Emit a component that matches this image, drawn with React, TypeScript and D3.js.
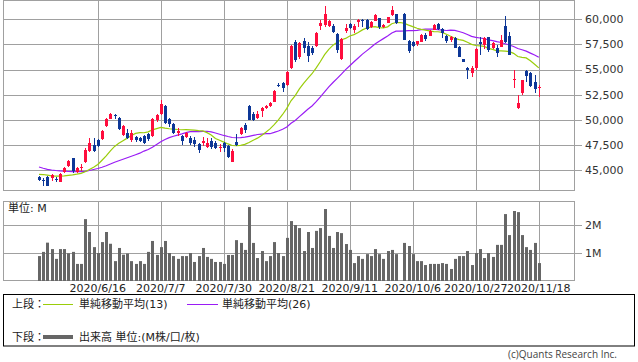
import React from 'react';
import * as d3 from 'd3';

// trading days shown on the chart (10/1 had no trading: TSE outage)
const dates = [
  '2020/5/27', '2020/5/28', '2020/5/29',
  '2020/6/1', '2020/6/2', '2020/6/3', '2020/6/4', '2020/6/5', '2020/6/8', '2020/6/9', '2020/6/10', '2020/6/11', '2020/6/12',
  '2020/6/15', '2020/6/16', '2020/6/17', '2020/6/18', '2020/6/19', '2020/6/22', '2020/6/23', '2020/6/24', '2020/6/25', '2020/6/26',
  '2020/6/29', '2020/6/30',
  '2020/7/1', '2020/7/2', '2020/7/3', '2020/7/6', '2020/7/7', '2020/7/8', '2020/7/9', '2020/7/10', '2020/7/13', '2020/7/14',
  '2020/7/15', '2020/7/16', '2020/7/17', '2020/7/20', '2020/7/21', '2020/7/22', '2020/7/27', '2020/7/28', '2020/7/29', '2020/7/30',
  '2020/7/31',
  '2020/8/3', '2020/8/4', '2020/8/5', '2020/8/6', '2020/8/7', '2020/8/11', '2020/8/12', '2020/8/13', '2020/8/14', '2020/8/17',
  '2020/8/18', '2020/8/19', '2020/8/20', '2020/8/21', '2020/8/24', '2020/8/25', '2020/8/26', '2020/8/27', '2020/8/28', '2020/8/31',
  '2020/9/1', '2020/9/2', '2020/9/3', '2020/9/4', '2020/9/7', '2020/9/8', '2020/9/9', '2020/9/10', '2020/9/11', '2020/9/14',
  '2020/9/15', '2020/9/16', '2020/9/17', '2020/9/18', '2020/9/23', '2020/9/24', '2020/9/25', '2020/9/28', '2020/9/29', '2020/9/30',
  '2020/10/1', '2020/10/2', '2020/10/5', '2020/10/6', '2020/10/7', '2020/10/8', '2020/10/9', '2020/10/12', '2020/10/13', '2020/10/14',
  '2020/10/15', '2020/10/16', '2020/10/19', '2020/10/20', '2020/10/21', '2020/10/22', '2020/10/23', '2020/10/26', '2020/10/27',
  '2020/10/28', '2020/10/29', '2020/10/30',
  '2020/11/2', '2020/11/4', '2020/11/5', '2020/11/6', '2020/11/9', '2020/11/10', '2020/11/11', '2020/11/12', '2020/11/13',
  '2020/11/16', '2020/11/17', '2020/11/18',
];

const opens = [
  44350, 44040, 44350, 44200, 44100, 43870, 44850, 45430, 46220, 44850,
  45230, 45800, 46930, 47515, 48040, 48130, 49380, 50130, 50450, 50230,
  48550, 48740, 48010, 48300, 48250, 48408, 48600, 48400, 49950, 50600,
  51390, 50063, 49600, 48700, 48370, 48340, 48180, 48050, 47600, 47750,
  47350, 47900, 47730, 47250, 47680, 47415, 45858, 47840, 48650, 49500,
  51420, 50580, 50200, 50850, 51150, 51400, 51800, 53500, 53640, 53450,
  55200, 57780, 56220, 57878, 57348, 57182, 57348, 59334, 59434, 59334,
  59334, 58507, 56024, 58871, 59533, 58937, 59700, 59930, 59930, 59268,
  59864, 60096, 59250, 59665, 60427, 60526, null, 60526, 57878, 57778,
  57547, 57778, 58440, 58374, 58937, 59533, 59003, 58341, 57944, 58109,
  57282, 56057, 55130, 54699, 55130, 57778, 57447, 58208, 57183, 57116,
  57282, 59334, 58341, 54000, 51156, 52646, 54897, 54699, 53805, 53200,
];
const highs = [
  44470, 44210, 44450, 44650, 44370, 44750, 45300, 46050, 46250, 45330,
  45630, 47200, 48200, 48180, 48150, 49000, 50150, 50650, 50593, 50300,
  49500, 49100, 49000, 48400, 48350, 48500, 48700, 50150, 50600, 51990,
  51450, 50163, 49730, 49170, 48550, 48800, 48400, 48280, 47750, 48340,
  48180, 48200, 47950, 47600, 47810, 47514, 47083, 48600, 49330, 49650,
  51500, 50800, 50850, 51300, 51500, 51750, 52950, 53700, 53750, 54850,
  57450, 57944, 57700, 58109, 57778, 57300, 58772, 59930, 61354, 59900,
  59500, 58606, 58110, 59533, 59600, 59533, 60000, 60030, 60000, 59800,
  60500, 60100, 59530, 60250, 61354, 60560, null, 60600, 57944, 57850,
  57878, 58500, 58600, 58900, 59500, 59600, 59100, 58440, 58300, 58200,
  57300, 56100, 55295, 55361, 57100, 58275, 58208, 58275, 57780, 57447,
  58440, 60327, 58772, 54964, 52481, 53970, 54964, 54800, 54467, 53473,
];
const lows = [
  43940, 43470, 43440, 43980, 43870, 43860, 44700, 45300, 44700, 44700,
  44960, 45700, 46850, 46820, 47350, 48050, 49300, 50050, 50066, 49050,
  48400, 48100, 47780, 47850, 47800, 47600, 47900, 48300, 49800, 50500,
  49600, 49335, 48600, 48400, 47550, 48200, 47500, 47350, 46750, 47450,
  47200, 47150, 47150, 46850, 46850, 46190, 45793, 47450, 48550, 48700,
  49950, 49850, 50050, 50300, 51050, 51300, 51750, 53250, 52820, 53400,
  55100, 55792, 56100, 56620, 55792, 56450, 57280, 58937, 59268, 59250,
  58600, 56620, 55960, 58606, 59000, 58606, 59200, 59200, 58900, 59100,
  59800, 59000, 59100, 59600, 60330, 59550, null, 57900, 56620, 57250,
  57300, 57700, 57800, 58300, 58900, 58950, 58109, 57612, 57780, 57116,
  56222, 55792, 54070, 54301, 55000, 56454, 57017, 56785, 57017, 56222,
  57282, 57679, 56454, 53143, 51057, 52481, 53805, 53242, 52712, 52315,
];
const closes = [
  44060, 43990, 43460, 44530, 44060, 44650, 45210, 45950, 44900, 45250,
  45330, 47020, 47745, 46950, 47460, 48950, 50100, 50593, 50380, 49150,
  49430, 48200, 48675, 48010, 47930, 47680, 48100, 50080, 50500, 51620,
  49650, 49600, 48670, 48950, 47880, 48740, 47720, 47620, 47020, 47880,
  47760, 47350, 47250, 47350, 47180, 46355, 46951, 47520, 49170, 49040,
  50030, 50000, 50580, 51190, 51420, 51650, 52910, 53420, 53200, 54800,
  57360, 55960, 57610, 57182, 56388, 56620, 58672, 59665, 60526, 59864,
  58772, 56951, 58010, 59102, 59102, 59334, 59930, 59800, 59000, 59765,
  60427, 59202, 59450, 60195, 60924, 59599, null, 57944, 56885, 57348,
  57878, 58440, 58010, 58837, 59434, 59003, 58606, 57845, 58200, 57116,
  56222, 55792, 54980, 55130, 57017, 57514, 58109, 56951, 57679, 56620,
  57944, 57778, 56454, 54100, 51653, 53970, 54368, 53374, 53043, 53300,
];
// volume, millions of shares
const volumes = [
  0.89, 1.04, 1.37, 1.14, 0.79, 1.14, 1.14, 0.99, 1.04, 0.61,
  0.61, 2.21, 1.75, 1.21, 1.0, 1.39, 1.75, 1.33, 0.71, 1.18,
  0.94, 0.98, 0.71, 0.61, 0.71, 0.61, 1.04, 1.43, 0.93, 1.21,
  1.43, 1.0, 0.89, 0.79, 0.89, 0.89, 1.0, 0.68, 0.89, 1.18,
  0.86, 0.79, 0.68, 0.68, 0.61, 0.93, 0.93, 1.46, 1.36, 1.11,
  2.64, 1.36, 0.82, 1.07, 0.71, 0.89, 1.39, 1.0, 0.89, 1.54,
  2.14, 2.0, 1.89, 1.07, 1.75, 1.18, 1.79, 1.89, 2.57, 1.61,
  1.18, 1.75, 1.71, 1.32, 1.11, 0.64, 0.89, 0.79, 0.96, 0.89,
  1.14, 0.96, 0.79, 1.07, 1.11, 0.96, null, 1.36, 1.25, 0.96,
  0.71, 0.71, 0.57, 0.61, 0.61, 0.61, 0.64, 0.61, 0.43, 0.79,
  0.89, 0.89, 1.07, 0.57, 1.0, 1.14, 0.82, 1.0, 0.86, 1.29,
  1.29, 2.39, 1.64, 2.5, 2.46, 1.64, 1.21, 1.11, 1.36, 0.64,
];
// averages before enough closes are on the chart
const sma13Head = [44600, 44580, 44520, 44450, 44430, 44430, 44450, 44500, 44550, 44620, 44700, 44850];
const sma26Head = [
  45330, 45200, 45100, 45030, 44980, 44940, 44910, 44880, 44870, 44860, 44870, 44900, 44980,
  45080, 45180, 45300, 45450, 45620, 45800, 45950, 46100, 46250, 46400, 46550, 46700,
];
const priceTicks = [45000, 47500, 50000, 52500, 55000, 57500, 60000];
const volumeTicks = [1, 2];
const labelDates = ['2020/6/16', '2020/7/7', '2020/7/30', '2020/8/21', '2020/9/11', '2020/10/6', '2020/10/27', '2020/11/18'];

const UP = '#ff0d3d';
const DOWN = '#0d3797';
const GRID = '#a0a0a0';
const FONT = '"DejaVu Sans", "Noto Sans CJK JP", sans-serif';

const movingAverage = (n: number, head: number[]) =>
  closes.map((c, i) => {
    if (i < head.length) return head[i];
    const win = closes.slice(0, i + 1).filter((v) => v != null).slice(-n) as number[];
    return d3.mean(win) as number;
  });

const App = () => {
  const left = 3.5;
  const right = 574.5;

  const x = d3.scalePoint<string>().domain(dates).range([39, 538.8]);
  const y = d3.scaleLinear().domain([45000, 60000]).range([170.3, 19.3]);
  const yv = d3.scaleLinear().domain([0, 2]).range([281, 225]);

  const sma13 = movingAverage(13, sma13Head);
  const sma26 = movingAverage(26, sma26Head);
  const line = d3
    .line<number>()
    .x((d, i) => x(dates[i]) as number)
    .y((d) => y(d));

  const px = (v: number) => Math.round(v) + 0.5;

  return (
    <svg
      width={638}
      height={362}
      style={{ position: 'absolute', left: 0, top: 0, background: '#fff' }}
      fontFamily={FONT}
    >
      {/* price panel */}
      <g>
        {priceTicks.map((t) => (
          <g key={t}>
            <line x1={left} x2={582} y1={px(y(t))} y2={px(y(t))} stroke={GRID} />
            <text x={585} y={y(t)} dy="0.35em" fontSize={11} fill="#333">
              {d3.format(',')(t)}
            </text>
          </g>
        ))}
        {labelDates.map((d) => (
          <line key={d} x1={px(x(d) as number)} x2={px(x(d) as number)} y1={0.5} y2={190.5} stroke={GRID} />
        ))}
        <rect x={left} y={0.5} width={right - left} height={190} fill="none" stroke={GRID} />

        <path d={line(sma26) || ''} fill="none" stroke="#9a1cf5" strokeWidth={1.2} />
        <path d={line(sma13) || ''} fill="none" stroke="#9acd0a" strokeWidth={1.2} />

        {dates.map((d, i) => {
          const o = opens[i];
          const c = closes[i];
          if (o == null || c == null) return null;
          const cx = Math.round(x(d) as number);
          const col = c >= o ? UP : DOWN;
          const top = Math.round(y(Math.max(o, c)));
          const bot = Math.round(y(Math.min(o, c)));
          return (
            <g key={d}>
              <line
                x1={cx + 0.5}
                x2={cx + 0.5}
                y1={Math.round(y(highs[i] as number))}
                y2={Math.round(y(lows[i] as number))}
                stroke={col}
              />
              <rect x={cx - 1} y={top} width={3} height={Math.max(1, bot - top)} fill={col} />
            </g>
          );
        })}
      </g>

      {/* volume panel */}
      <g>
        {volumeTicks.map((t) => (
          <g key={t}>
            <line x1={left} x2={582} y1={px(yv(t))} y2={px(yv(t))} stroke={GRID} />
            <text x={585} y={yv(t)} dy="0.35em" fontSize={11} fill="#333">
              {t + 'M'}
            </text>
          </g>
        ))}
        {labelDates.map((d) => (
          <line key={d} x1={px(x(d) as number)} x2={px(x(d) as number)} y1={201.5} y2={280.5} stroke={GRID} />
        ))}
        <rect x={left} y={201.5} width={right - left} height={79} fill="none" stroke={GRID} />
        {dates.map((d, i) =>
          volumes[i] == null ? null : (
            <rect
              key={d}
              x={Math.round(x(d) as number) - 1}
              y={yv(volumes[i] as number)}
              width={3}
              height={yv(0) - yv(volumes[i] as number)}
              fill="#666"
            />
          )
        )}
        <text x={8} y={208} dy="0.35em" fontSize={11} fill="#222">
          単位: M
        </text>
        {labelDates.map((d) => (
          <text key={d} x={x(d)} y={292} textAnchor="middle" fontSize={11} fill="#222">
            {d}
          </text>
        ))}
      </g>

      {/* legend */}
      <g fontSize={11} fill="#222">
        <rect x={3.5} y={294.5} width={631} height={51.5} fill="none" stroke="#000" />
        <text x={12} y={304} dy="0.35em">上段：</text>
        <line x1={43} x2={73} y1={304.5} y2={304.5} stroke="#9acd0a" />
        <text x={79} y={304} dy="0.35em">単純移動平均(13)</text>
        <line x1={187} x2={218} y1={304.5} y2={304.5} stroke="#9a1cf5" />
        <text x={222} y={304} dy="0.35em">単純移動平均(26)</text>
        <text x={12} y={337} dy="0.35em">下段：</text>
        <line x1={43} x2={73} y1={337} y2={337} stroke="#666" strokeWidth={4} />
        <text x={79} y={337} dy="0.35em">出来高 単位:(M株/口/枚)</text>
      </g>
      <text x={617} y={354} dy="0.35em" textAnchor="end" fontSize={10} fill="#444" fontFamily="'Open Sans', sans-serif">
        (c)Quants Research Inc.
      </text>
    </svg>
  );
};

export default App;
